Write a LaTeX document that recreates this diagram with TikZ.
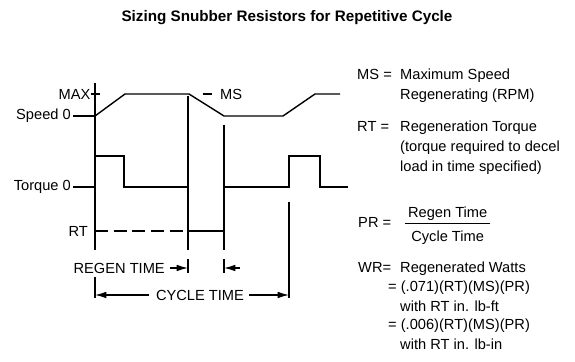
\documentclass[tikz,border=0pt]{standalone}
\usepackage{fontspec}
\setmainfont{Liberation Sans}
\usetikzlibrary{arrows.meta,positioning,backgrounds}
\pgfdeclarelayer{edgelayer}
\pgfdeclarelayer{nodelayer}
\pgfsetlayers{background,edgelayer,nodelayer,main}
\tikzstyle{none}=[inner sep=0mm]
\tikzstyle{txt}=[inner sep=0mm,font=\fontsize{12.5}{15}\selectfont]
\tikzstyle{defn}=[txt,anchor=base west]
\tikzstyle{wave}=[line width=1.2pt,line join=miter]
\tikzstyle{vtick}=[line width=1.2pt]
\tikzstyle{dimarrow}=[line width=1.1pt,-{Latex[length=3.4mm,width=2mm]}]

\begin{document}
\begin{tikzpicture}
	\useasboundingbox (0,0) rectangle (17.25,10.86);
	\begin{pgfonlayer}{nodelayer}
		\node [style=txt,font=\bfseries\fontsize{13}{15}\selectfont] (title) at (8.61,10.32) {Sizing Snubber Resistors for Repetitive Cycle};
		% axis labels
		\node [style=txt,anchor=east] (max) at (2.72,8.04) {MAX};
		\node [style=txt,anchor=east] (speed) at (2.13,7.38) {Speed 0};
		\node [style=txt,anchor=east] (torque) at (2.13,5.25) {Torque 0};
		\node [style=txt,anchor=east] (rt) at (2.64,3.93) {RT};
		\node [style=txt,anchor=west] (ms) at (6.6,8.04) {MS};
		\node [style=txt,anchor=east] (regen) at (4.95,2.82) {REGEN TIME};
		\node [style=txt] (cycle) at (6.0,2.01) {CYCLE TIME};
		% axis points
		\node [style=none] (top) at (2.85,8.37) {};
		\node [style=none] (maxtick) at (3.0,8.04) {};
		\node [style=none] (speed0) at (2.85,7.38) {};
		\node [style=none] (torque0) at (2.85,5.25) {};
		\node [style=none] (rt0) at (2.85,3.93) {};
		\node [style=none] (bottom) at (2.85,3.36) {};
		\node [style=none] (msdash) at (6.09,8.04) {};
		\node [style=none] (regenl) at (5.64,2.82) {};
		\node [style=none] (regenr) at (6.72,2.82) {};
		\node [style=none] (regenrs) at (7.2,2.82) {};
		\node [style=none] (cycl) at (2.85,2.01) {};
		\node [style=none] (cycr) at (8.67,2.01) {};
		% definitions
		\node [style=defn] (mskey) at (10.71,8.46) {MS =};
		\node [style=defn] (msdef) at (12.0,8.46) {Maximum Speed};
		\node [style=defn] (msdef2) at (12.0,7.86) {Regenerating (RPM)};
		\node [style=defn] (rtkey) at (10.71,6.90) {RT =};
		\node [style=defn] (rtdef) at (12.0,6.90) {Regeneration Torque};
		\node [style=defn] (rtdef2) at (12.0,6.30) {(torque required to decel};
		\node [style=defn] (rtdef3) at (12.0,5.70) {load in time specified)};
		\node [style=defn] (prkey) at (10.74,4.02) {PR =};
		\node [style=txt,anchor=base] (num) at (13.43,4.32) {Regen Time};
		\node [style=txt,anchor=base] (den) at (13.43,3.60) {Cycle Time};
		\node [style=none] (barl) at (12.15,4.17) {};
		\node [style=none] (barr) at (14.7,4.17) {};
		\node [style=defn] (wrkey) at (10.74,2.67) {WR=};
		\node [style=defn] (wrdef) at (12.0,2.67) {Regenerated Watts};
		\node [style=defn] (wrft) at (11.64,2.10) {= (.071)(RT)(MS)(PR)};
		\node [style=defn] (wrft2) at (12.0,1.50) {with RT in. lb-ft};
		\node [style=defn] (wrin) at (11.64,0.96) {= (.006)(RT)(MS)(PR)};
		\node [style=defn] (wrin2) at (12.0,0.36) {with RT in. lb-in};
	\end{pgfonlayer}
	\begin{pgfonlayer}{edgelayer}
		\draw [style=vtick] (top.center) to (bottom.center);
		\draw [style=vtick] (max.east) to (maxtick.center);
		\draw [style=vtick,shorten <=2pt] (speed.east) to (speed0.center);
		\draw [style=vtick,shorten <=2pt] (torque.east) to (torque0.center);
		\draw [style=vtick,shorten >=0.24cm] (msdash.center) to (ms.west);
		% speed and torque
		\draw [style=wave] (speed0.center) -- (3.75,8.04) -- (5.67,8.04) -- (6.72,7.38) -- (8.49,7.38) -- (9.45,8.04) -- (10.2,8.04);
		\draw [style=wave] (2.85,6.18) -- (3.72,6.18) -- (3.72,5.25) -- (5.64,5.25) -- (5.64,3.93) -- (6.72,3.93) -- (6.72,5.25) -- (8.67,5.25) -- (8.67,6.18) -- (9.6,6.18) -- (9.6,5.25) -- (10.44,5.25);
		\draw [style=wave,dash pattern=on 11pt off 5pt] (rt0.center) -- (5.64,3.93);
		% markers
		\draw [style=vtick] (5.64,7.98) -- (5.64,3.36);
		\draw [style=vtick] (6.72,7.11) -- (6.72,3.36);
		\draw [style=vtick] (8.67,4.80) -- (8.67,1.92);
		\draw [style=vtick] (5.64,3.09) -- (5.64,2.67);
		\draw [style=vtick] (6.72,3.09) -- (6.72,2.67);
		\draw [style=vtick] (2.85,2.55) -- (2.85,1.92);
		\draw [style=dimarrow,shorten <=0.15cm] (regen.east) to (regenl.center);
		\draw [style=dimarrow] (regenrs.center) to (regenr.center);
		\draw [style=dimarrow,shorten <=0.2cm] (cycle.west) to (cycl.center);
		\draw [style=dimarrow,shorten <=0.15cm] (cycle.east) to (cycr.center);
		\draw [line width=0.8pt] (barl.center) to (barr.center);
	\end{pgfonlayer}
\end{tikzpicture}
\end{document}
